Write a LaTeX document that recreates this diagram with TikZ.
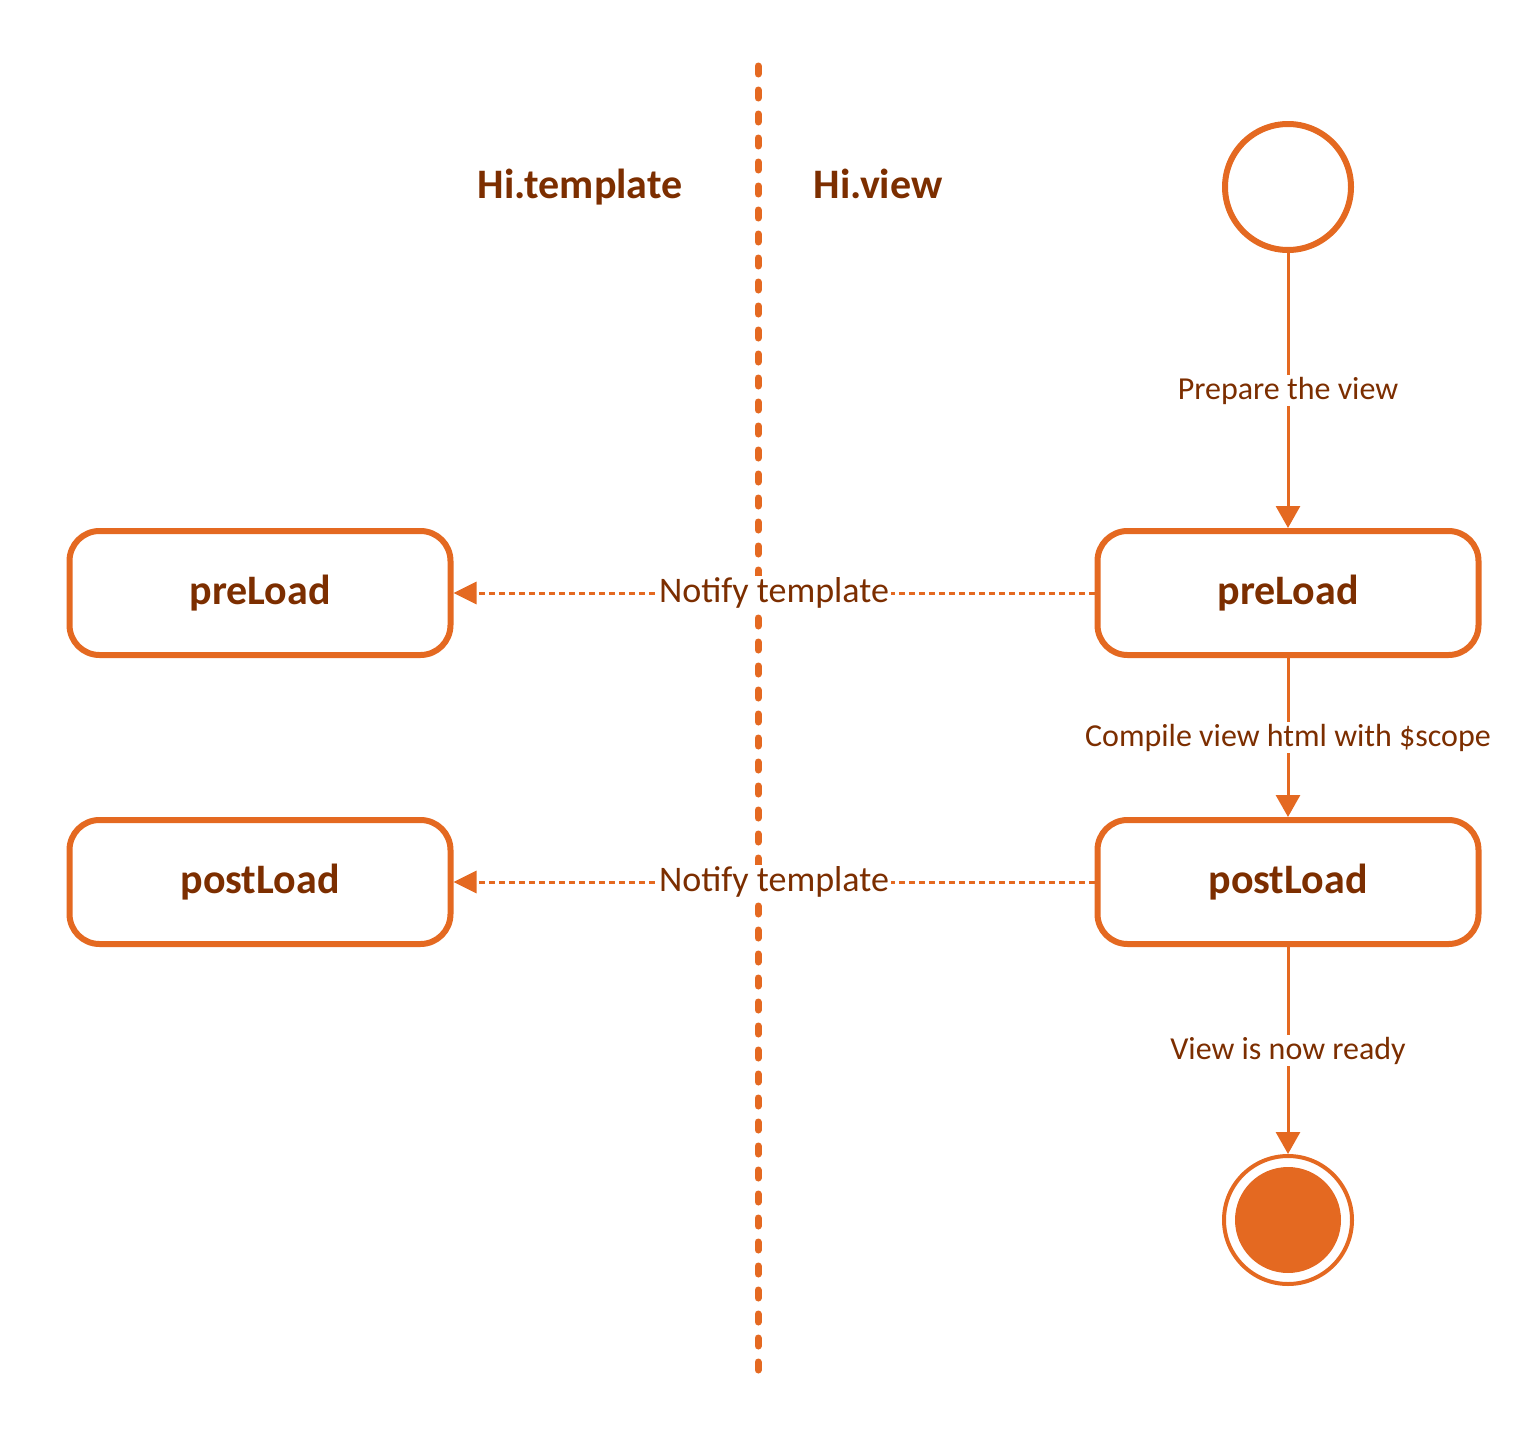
\documentclass[tikz,border=0pt]{standalone}
\usepackage{fontspec}
\setmainfont{Carlito}
\usetikzlibrary{positioning,arrows.meta}
\definecolor{orng}{RGB}{228,105,33}
\definecolor{brwn}{RGB}{124,46,0}
\tikzset{
  state/.style={rectangle, rounded corners=15pt, minimum width=190.5pt, minimum height=62pt, text centered, draw=orng, line width=3pt, text=brwn, font=\fontsize{21}{25}\selectfont\bfseries},
  initial/.style={circle, minimum size=63pt, draw=orng, line width=3pt, inner sep=0pt},
  final/.style={circle, minimum size=64pt, draw=orng, line width=2pt, inner sep=0pt,
    path picture={\fill[orng] (path picture bounding box.center) circle (26.5pt);}},
  lane/.style={text=brwn, anchor=base, font=\fontsize{21}{25}\selectfont\bfseries},
  flow/.style={draw=orng, line width=1.5pt, -{Triangle[length=11pt, width=12pt]}},
  notify/.style={draw=orng, line width=1.5pt, dash pattern=on 3pt off 2pt, -{Triangle[length=11.5pt, width=11pt]}},
  lbl/.style={fill=white, text=brwn, inner sep=1pt, font=\fontsize{16}{19}\selectfont},
  nlbl/.style={fill=white, text=brwn, inner sep=1pt, font=\fontsize{18}{21}\selectfont}
}
\begin{document}
\begin{tikzpicture}[x=0.5pt, y=-0.5pt]
	\useasboundingbox (0,0) rectangle (1538,1440);
	% swimlane divider
	\coordinate (top) at (758,66);
	\coordinate (bottom) at (758,1371);
	\draw[orng, line width=3.5pt, line cap=round, dash pattern=on 4pt off 8pt] (top) -- (bottom);
	\node[lane] (tmpl) at (580,198) {Hi.template};
	\node[lane] (view) at (878,198) {Hi.view};
	%
	\node[initial] (start) at (1288,187) {};
	\node[state] (pre) at (1288,593) {preLoad};
	\node[state] (post) at (1288,882) {postLoad};
	\node[final] (end) at (1288,1220) {};
	\node[state] (tpre) at (260,593) {preLoad};
	\node[state] (tpost) at (260,882) {postLoad};
	%
	\draw[flow] (start) -- node[lbl] {Prepare the view} (pre);
	\draw[flow] (pre) -- node[lbl] {Compile view html with \$scope} (post);
	\draw[flow] (post) -- node[lbl] {View is now ready} (end);
	\draw[notify] (pre) -- node[nlbl] {Notify template} (tpre);
	\draw[notify] (post) -- node[nlbl] {Notify template} (tpost);
\end{tikzpicture}
\end{document}
